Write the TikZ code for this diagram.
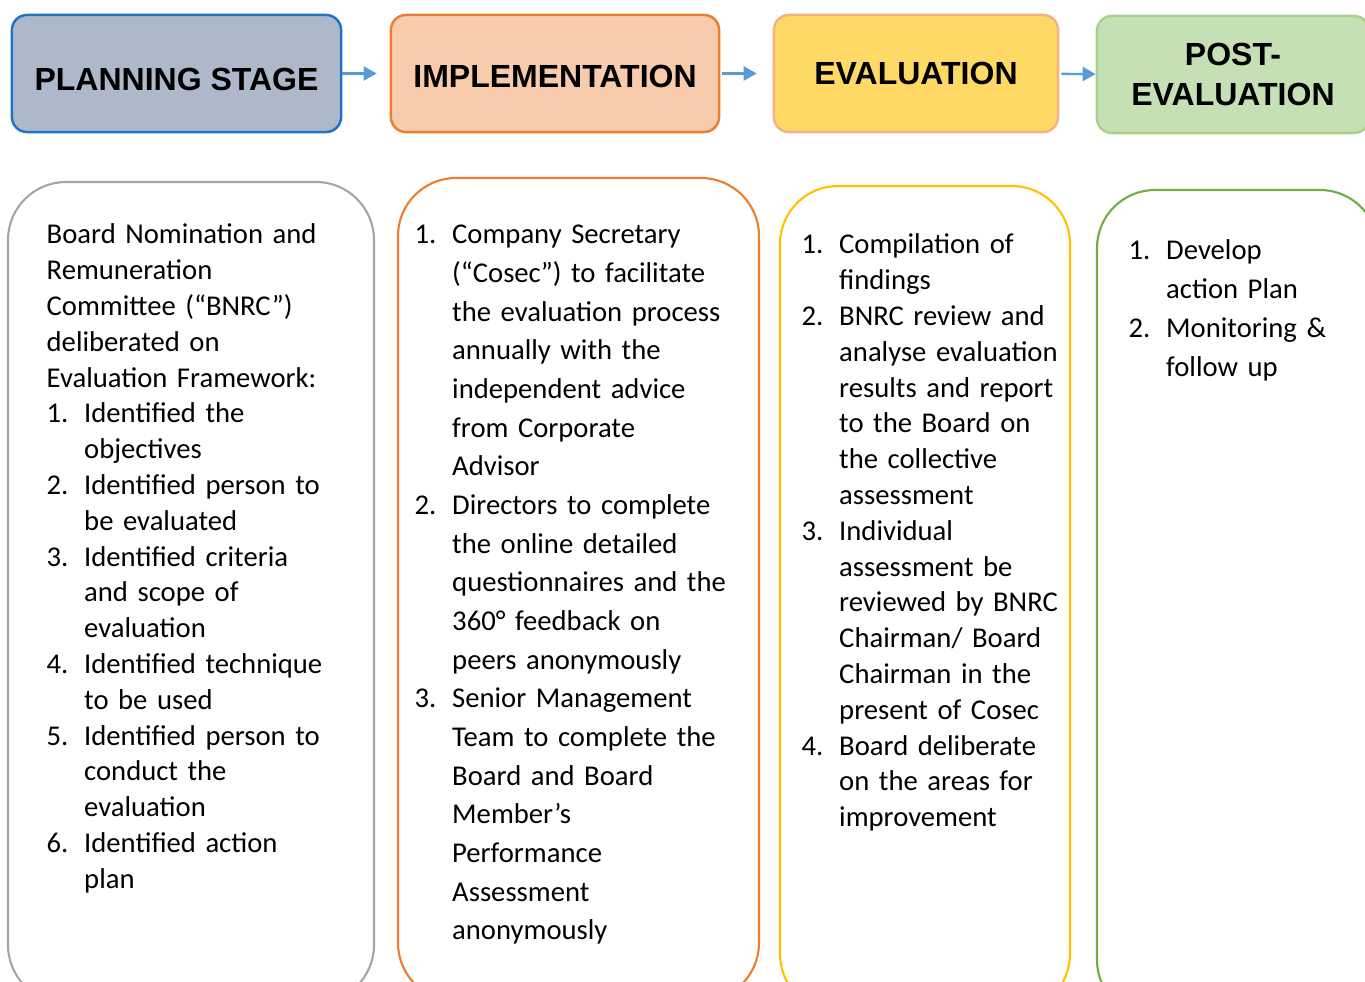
\documentclass[tikz,border=0pt]{standalone}
\usepackage{fontspec}
\setmainfont{Carlito}
\newfontfamily\headfont{Liberation Sans}
\usetikzlibrary{arrows.meta}
\definecolor{planfill}{HTML}{ADB9CA}
\definecolor{planline}{HTML}{1F72C4}
\definecolor{implfill}{HTML}{F8CBAD}
\definecolor{implline}{HTML}{ED7D31}
\definecolor{evalfill}{HTML}{FFD966}
\definecolor{evalline}{HTML}{F4B183}
\definecolor{postfill}{HTML}{C5E0B4}
\definecolor{postline}{HTML}{A9D18E}
\definecolor{arrowblue}{HTML}{5B9BD5}
\definecolor{framegray}{HTML}{A5A5A5}
\definecolor{frameorange}{HTML}{ED7D31}
\definecolor{frameyellow}{HTML}{FFC000}
\definecolor{framegreen}{HTML}{70AD47}
% line break that keeps the paragraph (and its hanging indent)
\newcommand\brk{\hfil\break}
% numbered paragraph with hanging indent
\newlength\numhang
\setlength\numhang{0.375cm}
\newcommand\numitem[2]{\hangindent=\numhang\hangafter=1\noindent\makebox[\numhang][l]{#1}#2\par}
\tikzset{
    stage/.style={draw,line width=0.7pt,rounded corners=0.15cm,minimum height=1.17cm,
        align=center,font=\headfont\bfseries\fontsize{9.1pt}{11.4pt}\selectfont},
    flow/.style={draw=arrowblue,line width=0.7pt,-{Triangle[length=0.13cm,width=0.14cm]}},
    frame/.style={line width=0.6pt,rounded corners=0.58cm},
    body/.style={anchor=base west,inner sep=0pt,text width=3.5cm,
        font=\fontsize{8.15pt}{#1}\selectfont}
}
\begin{document}
\begin{tikzpicture}[x=0.01cm,y=-0.01cm]
\useasboundingbox (0,0) rectangle (1365,982);
\clip (0,0) rectangle (1365,982);
% stages
\node[stage,draw=planline,fill=planfill,minimum width=3.29cm,text height=0.33cm,text depth=0cm] (plan) at (176.5,73.5) {PLANNING STAGE};
\node[stage,draw=implline,fill=implfill,minimum width=3.28cm,text height=0.27cm,text depth=0cm] (impl) at (555,73.5) {IMPLEMENTATION};
\node[stage,draw=evalline,fill=evalfill,minimum width=2.84cm] (eval) at (916,73.5) {EVALUATION};
\node[stage,draw=postline,fill=postfill,minimum width=2.72cm] (post) at (1233,74.5) {POST-\\EVALUATION};
\draw[flow,shorten >=0.13cm] (plan) -- (impl);
\draw[flow,shorten >=0.16cm,shorten <=0.02cm] (impl) -- (eval);
\draw[flow,shorten <=0.02cm] (eval) -- (post);
% frames
\draw[frame,draw=framegray] (8,182) rectangle (374,1003);
\draw[frame,draw=frameorange] (398,178) rectangle (759,1001);
\draw[frame,draw=frameyellow] (780,186) rectangle (1070,1012);
\draw[frame,draw=framegreen] (1097,190) rectangle (1378,1018);
% texts
\node[body=10.18pt] (plantext) at (46,244) {%
Board Nomination and\brk Remuneration\brk Committee (“BNRC”)\brk deliberated on\brk Evaluation Framework:\par
\numitem{1.}{Identified the\brk objectives}
\numitem{2.}{Identified person to\brk be evaluated}
\numitem{3.}{Identified criteria\brk and scope of\brk evaluation}
\numitem{4.}{Identified technique\brk to be used}
\numitem{5.}{Identified person to\brk conduct the\brk evaluation}
\numitem{6.}{Identified action\brk plan}};
\node[body=10.99pt] (impltext) at (414,244) {%
\numitem{1.}{Company Secretary\brk (“Cosec”) to facilitate\brk the evaluation process\brk annually with the\brk independent advice\brk from Corporate\brk Advisor}
\numitem{2.}{Directors to complete\brk the online detailed\brk questionnaires and the\brk 360° feedback on\brk peers anonymously}
\numitem{3.}{Senior Management\brk Team to complete the\brk Board and Board\brk Member’s\brk Performance\brk Assessment\brk anonymously}};
\node[body=10.18pt] (evaltext) at (801,254) {%
\numitem{1.}{Compilation of\brk findings}
\numitem{2.}{BNRC review and\brk analyse evaluation\brk results and report\brk to the Board on\brk the collective\brk assessment}
\numitem{3.}{Individual\brk assessment be\brk reviewed by BNRC\brk Chairman/ Board\brk Chairman in the\brk present of Cosec}
\numitem{4.}{Board deliberate\brk on the areas for\brk improvement}};
\node[body=11.01pt] (posttext) at (1128,260) {%
\numitem{1.}{Develop\brk action Plan}
\numitem{2.}{Monitoring \&\brk follow up}};
\end{tikzpicture}
\end{document}
